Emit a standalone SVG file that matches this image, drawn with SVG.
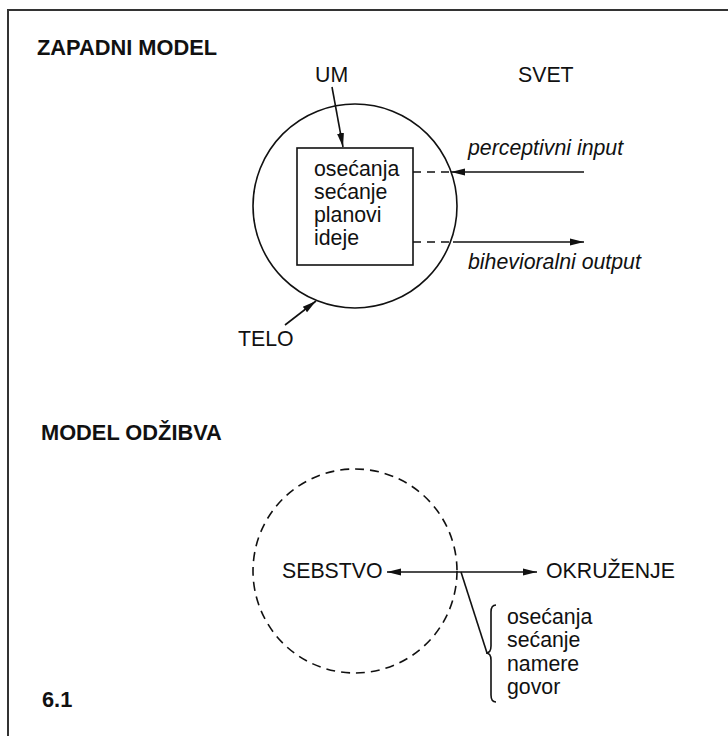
<svg xmlns="http://www.w3.org/2000/svg" width="728" height="736" viewBox="0 0 728 736">
<style>
text{font-family:"Liberation Sans",Arial,sans-serif;font-size:21.3px;fill:#111}
.b{font-weight:bold;font-size:21.8px}
.i{font-style:italic}
.ln{stroke:#111;stroke-width:1.6;fill:none}
.ds{stroke-dasharray:8,6}
</style>
<defs>
<marker id="ah2" viewBox="0 0 14 10" refX="14" refY="5" markerWidth="14" markerHeight="10" markerUnits="userSpaceOnUse" orient="auto-start-reverse">
<path d="M0,1.5 L14,5 L0,8.5 z" fill="#111"/>
</marker>
</defs>
<rect x="0" y="0" width="728" height="736" fill="#fff"/>
<rect x="8" y="10" width="740" height="750" fill="none" stroke="#333" stroke-width="2"/>
<g id="titles">
<text class="b" x="37" y="55">ZAPADNI MODEL</text>
<text class="b" x="41" y="440">MODEL ODŽIBVA</text>
<text class="b" x="42" y="707">6.1</text>
</g>
<g id="telo-node">
<circle class="ln" cx="355" cy="206" r="102"/>
<text x="238" y="346">TELO</text>
</g>
<g id="um-node">
<rect class="ln" x="297" y="148" width="116" height="117"/>
<text x="314" y="176">osećanja</text>
<text x="314" y="199">sećanje</text>
<text x="314" y="222">planovi</text>
<text x="314" y="245">ideje</text>
<text x="315" y="82">UM</text>
</g>
<g id="svet-node">
<text x="518" y="82">SVET</text>
<text class="i" x="468" y="155">perceptivni input</text>
<text class="i" x="468" y="269">bihevioralni output</text>
</g>
<g id="sebstvo-node">
<circle class="ln" cx="355" cy="571" r="102" stroke-dasharray="9,6"/>
<text x="282" y="578">SEBSTVO</text>
</g>
<g id="okruzenje-node">
<text x="546" y="578">OKRUŽENJE</text>
</g>
<g id="list-node">
<text x="507" y="624">osećanja</text>
<text x="507" y="647">sećanje</text>
<text x="507" y="671">namere</text>
<text x="507" y="694">govor</text>
</g>
<g id="connectors">
<line class="ln" x1="332" y1="87" x2="343" y2="147" marker-end="url(#ah2)"/>
<line class="ln" x1="285" y1="325" x2="316" y2="301" marker-end="url(#ah2)"/>
<line class="ln ds" x1="413" y1="172" x2="451" y2="172"/>
<line class="ln" x1="584" y1="172" x2="451" y2="172" marker-end="url(#ah2)"/>
<line class="ln ds" x1="413" y1="242" x2="453" y2="242"/>
<line class="ln" x1="453" y1="242" x2="584" y2="242" marker-end="url(#ah2)"/>
<line class="ln" x1="387" y1="572" x2="537" y2="572" marker-start="url(#ah2)" marker-end="url(#ah2)"/>
<line class="ln" x1="461" y1="572" x2="487" y2="653"/>
<path class="ln" stroke-width="1.3" d="M496,605 Q491,605 491,612 L491,646 Q491,653 486,653 Q491,653 491,660 L491,695 Q491,702 496,702"/>
</g>
</svg>
